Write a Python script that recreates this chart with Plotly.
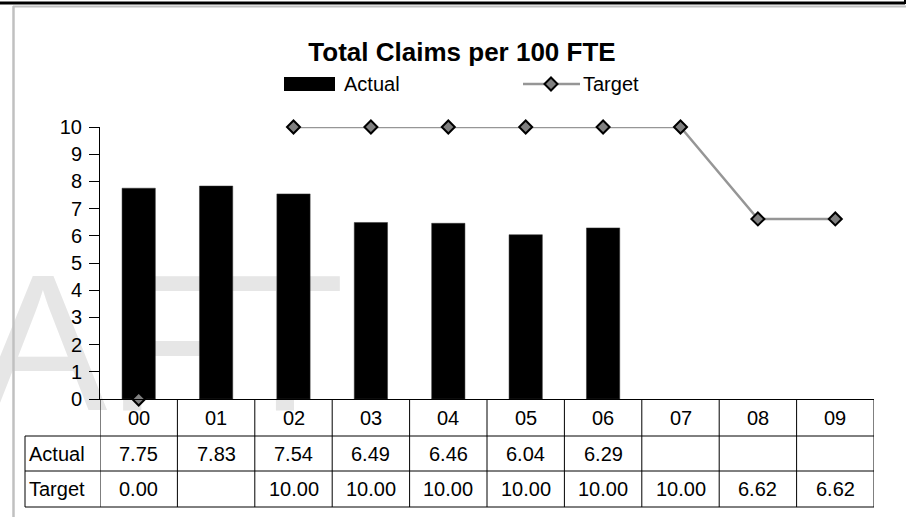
import plotly.graph_objects as go

# ---------------- data ----------------
years = ["00", "01", "02", "03", "04", "05", "06", "07", "08", "09"]
actual = [7.75, 7.83, 7.54, 6.49, 6.46, 6.04, 6.29, None, None, None]
target = [0.00, None, 10.00, 10.00, 10.00, 10.00, 10.00, 10.00, 6.62, 6.62]
series_names = ["Actual", "Target"]
title_text = "Total Claims per 100 FTE"
y_ticks = list(range(0, 11))
watermark = "DRAFT"

# ---------------- layout helpers (pixel -> paper) ----------------
W, H = 906, 517
def px(x):
    return x / W
def py(y):
    return 1 - y / H

FONT = "Liberation Sans, Arial, sans-serif"
PLOT_L, PLOT_R = 100, 874
PLOT_T, PLOT_B = 127, 399
ROW_LINES = [436, 471, 507]
TABLE_L = 25

fig = go.Figure()

# watermark (drawn in a full-page background subplot, under the chart)
fig.add_trace(go.Scatter(
    x=[21], y=[361], mode="text", text=[watermark],
    textposition="middle center",
    textfont=dict(family=FONT, size=194, color="#e6e6e6"),
    xaxis="x", yaxis="y", hoverinfo="skip", showlegend=False, cliponaxis=False,
))

# bars
fig.add_trace(go.Bar(
    x=years, y=actual, name=series_names[0],
    marker=dict(color="#000000", line=dict(color="#333333", width=0.5)),
    width=0.43, xaxis="x2", yaxis="y2", showlegend=False,
))

# target line
fig.add_trace(go.Scatter(
    x=years, y=target, name=series_names[1], mode="lines+markers",
    line=dict(color="#969696", width=2.5),
    marker=dict(symbol="diamond", size=10, color="#808080",
                line=dict(color="#000000", width=2)),
    connectgaps=False, cliponaxis=False,
    xaxis="x2", yaxis="y2", showlegend=False,
))

shapes = []
annotations = []

# page borders
shapes.append(dict(type="line", xref="paper", yref="paper",
                   x0=px(0), x1=px(905), y0=py(3), y1=py(3),
                   line=dict(color="#000000", width=3)))
shapes.append(dict(type="line", xref="paper", yref="paper",
                   x0=px(905), x1=px(905), y0=py(0), y1=py(4),
                   line=dict(color="#000000", width=2)))
shapes.append(dict(type="line", xref="paper", yref="paper",
                   x0=px(13), x1=px(906), y0=py(6.5), y1=py(6.5),
                   line=dict(color="#c0c0c0", width=2)))
shapes.append(dict(type="line", xref="paper", yref="paper",
                   x0=px(13.5), x1=px(13.5), y0=py(6), y1=py(517),
                   line=dict(color="#c0c0c0", width=2.5)))

# data table grid
for yy in ROW_LINES:
    shapes.append(dict(type="line", xref="paper", yref="paper",
                       x0=px(TABLE_L), x1=px(PLOT_R), y0=py(yy), y1=py(yy),
                       line=dict(color="#000000", width=1)))
shapes.append(dict(type="line", xref="paper", yref="paper",
                   x0=px(TABLE_L), x1=px(TABLE_L), y0=py(ROW_LINES[0]), y1=py(ROW_LINES[-1]),
                   line=dict(color="#000000", width=1)))
for i in range(len(years) + 1):
    shapes.append(dict(type="line", xref="x2", yref="paper",
                       x0=i - 0.5, x1=i - 0.5, y0=py(PLOT_B), y1=py(ROW_LINES[-1]),
                       line=dict(color="#000000", width=1)))

# table texts
TFS = 20
hdr_y = (PLOT_B + ROW_LINES[0]) / 2
row_ys = [(ROW_LINES[0] + ROW_LINES[1]) / 2, (ROW_LINES[1] + ROW_LINES[2]) / 2]
for yr in years:
    annotations.append(dict(x=yr, y=py(hdr_y), xref="x2", yref="paper", text=yr,
                            showarrow=False, xanchor="center", yanchor="middle",
                            font=dict(family=FONT, size=TFS, color="#000000")))
for name, vals, ry in zip(series_names, [actual, target], row_ys):
    annotations.append(dict(x=px(TABLE_L + 2), y=py(ry), xref="paper", yref="paper",
                            text=name, showarrow=False, xanchor="left", yanchor="middle",
                            font=dict(family=FONT, size=TFS, color="#000000")))
    for yr, v in zip(years, vals):
        if v is None:
            continue
        annotations.append(dict(x=yr, y=py(ry), xref="x2", yref="paper",
                                text=f"{v:.2f}", showarrow=False,
                                xanchor="center", yanchor="middle",
                                font=dict(family=FONT, size=TFS, color="#000000")))

# custom legend
LEG_Y = 84
shapes.append(dict(type="rect", xref="paper", yref="paper",
                   x0=px(284), x1=px(335), y0=py(77), y1=py(91),
                   fillcolor="#000000", line=dict(width=0)))
annotations.append(dict(x=px(342), y=py(LEG_Y), xref="paper", yref="paper",
                        text=series_names[0], showarrow=False, xanchor="left",
                        yanchor="middle", font=dict(family=FONT, size=20, color="#000000")))
shapes.append(dict(type="line", xref="paper", yref="paper",
                   x0=px(523), x1=px(580), y0=py(LEG_Y), y1=py(LEG_Y),
                   line=dict(color="#969696", width=2.5)))
cx, cy, r = 551, LEG_Y, 6.5
shapes.append(dict(type="path", xref="paper", yref="paper",
                   path=f"M {px(cx - r)},{py(cy)} L {px(cx)},{py(cy - r)} L {px(cx + r)},{py(cy)} L {px(cx)},{py(cy + r)} Z",
                   fillcolor="#808080", line=dict(color="#000000", width=2)))
annotations.append(dict(x=px(581), y=py(LEG_Y), xref="paper", yref="paper",
                        text=series_names[1], showarrow=False, xanchor="left",
                        yanchor="middle", font=dict(family=FONT, size=20, color="#000000")))

fig.update_layout(
    template="none",
    width=W, height=H, autosize=False,
    margin=dict(l=0, r=0, t=0, b=0, pad=0, autoexpand=False),
    paper_bgcolor="#ffffff", plot_bgcolor="rgba(0,0,0,0)",
    showlegend=False,
    title=dict(text=title_text, x=px(462), y=py(52), xref="paper", yref="paper",
               xanchor="center", yanchor="middle", automargin=False,
               font=dict(family=FONT, size=26, color="#000000", weight="bold")),
    xaxis=dict(domain=[0, 1], range=[0, W], visible=False, fixedrange=True, automargin=False),
    yaxis=dict(domain=[0, 1], range=[H, 0], visible=False, fixedrange=True, automargin=False),
    xaxis2=dict(domain=[px(PLOT_L), px(PLOT_R)], anchor="y2", type="category",
                categoryorder="array", categoryarray=years, range=[-0.5, len(years) - 0.5],
                showticklabels=False, ticks="", showline=True, linecolor="#000000",
                linewidth=1, showgrid=False, zeroline=False, automargin=False),
    yaxis2=dict(domain=[py(PLOT_B), py(PLOT_T)], anchor="x2", range=[0, 10],
                tickvals=y_ticks, ticks="outside", ticklen=10, tickwidth=1,
                tickcolor="#000000", showline=True, linecolor="#000000", linewidth=1,
                showgrid=False, zeroline=False, ticklabelstandoff=3, automargin=False,
                tickfont=dict(family=FONT, size=20, color="#000000")),
    yaxis3=dict(overlaying="y2", anchor="x2", side="left", range=[0, 10],
                tickvals=y_ticks, ticks="inside", ticklen=7, tickwidth=1,
                tickcolor="#000000", showticklabels=False, showline=False,
                showgrid=False, zeroline=False, automargin=False),
    shapes=shapes,
    annotations=annotations,
    font=dict(family=FONT, color="#000000"),
)

fig.write_html(
    "out.html",
    config={"displayModeBar": False},
    post_script="document.body.style.margin='0px';document.body.style.padding='0px';",
)
